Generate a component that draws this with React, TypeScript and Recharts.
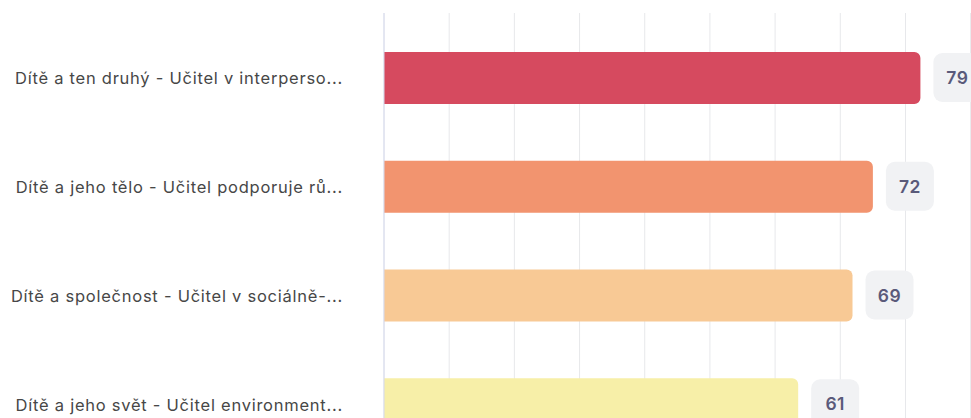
import React from "react";
import {
  BarChart,
  Bar,
  XAxis,
  YAxis,
  CartesianGrid,
  Cell,
  LabelList,
} from "recharts";

// categories as shown (already truncated in the source)
const categories = [
  "Dítě a ten druhý - Učitel v interperso...",
  "Dítě a jeho tělo - Učitel podporuje rů...",
  "Dítě a společnost - Učitel v sociálně-...",
  "Dítě a jeho svět - Učitel environment...",
];
const scores = [79, 72, 69, 61];
const barColors = ["#d64a5f", "#f2946f", "#f8c995", "#f7efa8"];
const gridTicks = [0, 9.6, 19.2, 28.8, 38.4, 48, 57.6, 67.2, 76.8, 86.4, 96];

const data = categories.map((name, i) => ({ name, score: scores[i] }));

const CategoryTick = (props: any) => {
  const { x, y, payload } = props;
  return (
    <text
      x={x}
      y={y}
      dy={6}
      textAnchor="end"
      fontFamily="Inter, sans-serif"
      fontSize={16.5}
      letterSpacing={0.75}
      fill="#474747"
    >
      {payload.value}
    </text>
  );
};

const ValueBadge = (props: any) => {
  const { x, y, width, height, value } = props;
  const bx = x + width + 13;
  return (
    <g>
      <rect x={bx} y={y + 1} width={48} height={height - 3} rx={9} fill="#f1f2f4" />
      <text
        x={bx + 24}
        y={y + height / 2}
        dy={6}
        textAnchor="middle"
        fontFamily="Inter, sans-serif"
        fontSize={17.5}
        fontWeight={600}
        letterSpacing={0.5}
        fill="#5a5a7a"
      >
        {value}
      </text>
    </g>
  );
};

export default function App() {
  return (
    <div
      style={{
        position: "fixed",
        top: 0,
        left: 0,
        width: 971,
        height: 418,
        overflow: "hidden",
        background: "#fff",
      }}
    >
      <BarChart
        width={1063}
        height={459}
        data={data}
        layout="vertical"
        margin={{ top: 13, right: 0, bottom: 0, left: 0 }}
      >
        <CartesianGrid horizontal={false} stroke="#e7e8eb" />
        <XAxis type="number" domain={[0, 100]} ticks={gridTicks} hide />
        <YAxis
          type="category"
          dataKey="name"
          width={384}
          padding={{ top: 11, bottom: 0 }}
          tickLine={false}
          tickSize={0}
          tickMargin={41}
          axisLine={{ stroke: "#d5daee" }}
          tick={<CategoryTick />}
        />
        <Bar dataKey="score" barSize={52} radius={[0, 6, 6, 0]} isAnimationActive={false}>
          {data.map((d, i) => (
            <Cell key={d.name} fill={barColors[i]} />
          ))}
          <LabelList dataKey="score" content={<ValueBadge />} />
        </Bar>
      </BarChart>
    </div>
  );
}
